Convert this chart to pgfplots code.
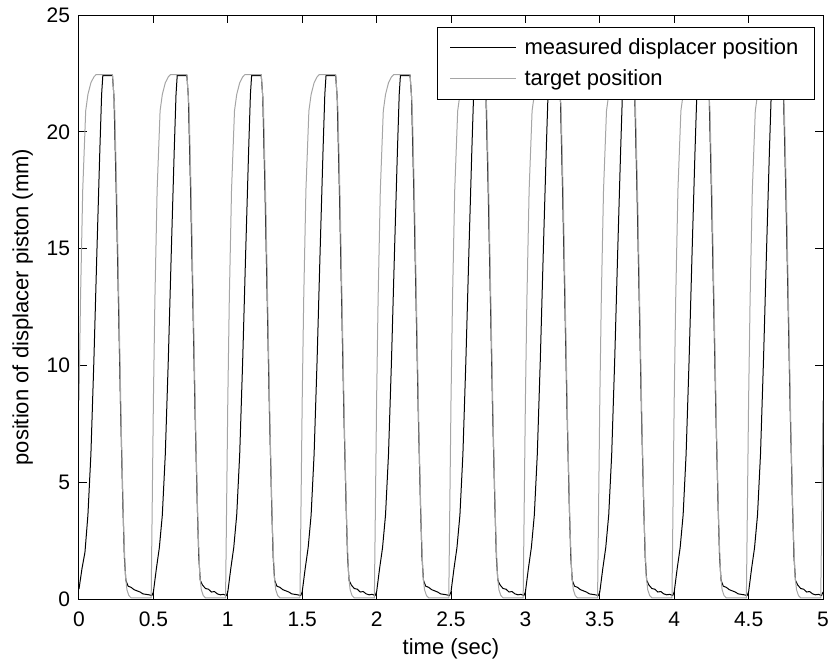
\documentclass[border=0pt]{standalone}
\usepackage{fontspec}
\setmainfont{Liberation Sans}
\usepackage{pgfplots}
\pgfplotsset{compat=1.18}
\definecolor{targetgray}{RGB}{165,165,165}

\begin{document}
\begin{tikzpicture}
\path[use as bounding box] (-39.5pt,-33.5pt) rectangle (377pt,299.5pt);
\begin{axis}[
  scale only axis, width=372pt, height=292pt,
  xmin=0, xmax=5, ymin=0, ymax=25,
  xtick={0,0.5,...,5}, ytick={0,5,...,25},
  tick align=inside, major tick length=4pt,
  axis line style={line width=0.5pt}, every tick/.style={black, line width=0.5pt},
  tick label style={font=\fontsize{10.5}{12}\selectfont},
  /pgf/number format/assume math mode=true,
  /pgf/number format/fixed,
  xticklabel style={yshift=-3pt},
  yticklabel style={xshift=-1pt},
  xlabel={time (sec)}, ylabel={position of displacer piston (mm)},
  label style={font=\fontsize{11}{13}\selectfont},
  xlabel style={yshift=1pt},
  ylabel style={yshift=0pt},
  clip=true,
  legend style={at={(1,1)}, anchor=north east, xshift=-4pt, yshift=-6pt,
    draw=black, line width=0.5pt, font=\fontsize{11}{13}\selectfont,
    inner xsep=6pt, inner ysep=3.5pt, row sep=2pt, cells={anchor=west},
    /tikz/every odd column/.append style={column sep=2pt}},
  legend image code/.code={\draw[#1] (0pt,0pt) -- (33pt,0pt);},
]
% measured displacer position
\addplot[black, line width=0.5pt] coordinates {
(0.000,0.43)(0.020,1.30)(0.040,2.00)(0.060,3.60)(0.080,6.20)(0.100,10.2)(0.120,14.8)(0.140,19.2)(0.152,21.6)(0.160,22.4)(0.225,22.4)(0.235,21.5)(0.250,17.5)(0.265,12.8)(0.280,8.0)(0.295,4.0)(0.305,1.8)(0.315,0.80)(0.330,0.55)(0.350,0.50)(0.370,0.40)(0.390,0.35)(0.410,0.30)(0.430,0.22)(0.450,0.20)(0.470,0.18)(0.490,0.15)
(0.500,0.30)(0.520,1.30)(0.540,2.20)(0.560,3.60)(0.580,6.20)(0.600,10.2)(0.620,14.8)(0.640,19.2)(0.652,21.6)(0.660,22.4)(0.725,22.4)(0.735,21.5)(0.750,17.5)(0.765,12.8)(0.780,8.0)(0.795,4.0)(0.805,1.8)(0.815,0.80)(0.830,0.60)(0.850,0.45)(0.870,0.42)(0.890,0.30)(0.910,0.32)(0.930,0.22)(0.950,0.18)(0.970,0.20)(0.990,0.15)
(1.000,0.30)(1.020,1.30)(1.040,2.20)(1.060,3.60)(1.080,6.20)(1.100,10.2)(1.120,14.8)(1.140,19.2)(1.152,21.6)(1.160,22.4)(1.225,22.4)(1.235,21.5)(1.250,17.5)(1.265,12.8)(1.280,8.0)(1.295,4.0)(1.305,1.8)(1.315,0.80)(1.330,0.55)(1.350,0.50)(1.370,0.40)(1.390,0.35)(1.410,0.30)(1.430,0.22)(1.450,0.20)(1.470,0.18)(1.490,0.15)
(1.500,0.30)(1.520,1.30)(1.540,2.20)(1.560,3.60)(1.580,6.20)(1.600,10.2)(1.620,14.8)(1.640,19.2)(1.652,21.6)(1.660,22.4)(1.725,22.4)(1.735,21.5)(1.750,17.5)(1.765,12.8)(1.780,8.0)(1.795,4.0)(1.805,1.8)(1.815,0.80)(1.830,0.60)(1.850,0.45)(1.870,0.42)(1.890,0.30)(1.910,0.32)(1.930,0.22)(1.950,0.18)(1.970,0.20)(1.990,0.15)
(2.000,0.30)(2.020,1.30)(2.040,2.20)(2.060,3.60)(2.080,6.20)(2.100,10.2)(2.120,14.8)(2.140,19.2)(2.152,21.6)(2.160,22.4)(2.225,22.4)(2.235,21.5)(2.250,17.5)(2.265,12.8)(2.280,8.0)(2.295,4.0)(2.305,1.8)(2.315,0.80)(2.330,0.55)(2.350,0.50)(2.370,0.40)(2.390,0.35)(2.410,0.30)(2.430,0.22)(2.450,0.20)(2.470,0.18)(2.490,0.15)
(2.500,0.30)(2.520,1.30)(2.540,2.20)(2.560,3.60)(2.580,6.20)(2.600,10.2)(2.620,14.8)(2.640,19.2)(2.652,21.6)(2.660,22.4)(2.725,22.4)(2.735,21.5)(2.750,17.5)(2.765,12.8)(2.780,8.0)(2.795,4.0)(2.805,1.8)(2.815,0.80)(2.830,0.60)(2.850,0.45)(2.870,0.42)(2.890,0.30)(2.910,0.32)(2.930,0.22)(2.950,0.18)(2.970,0.20)(2.990,0.15)
(3.000,0.30)(3.020,1.30)(3.040,2.20)(3.060,3.60)(3.080,6.20)(3.100,10.2)(3.120,14.8)(3.140,19.2)(3.152,21.6)(3.160,22.4)(3.225,22.4)(3.235,21.5)(3.250,17.5)(3.265,12.8)(3.280,8.0)(3.295,4.0)(3.305,1.8)(3.315,0.80)(3.330,0.55)(3.350,0.50)(3.370,0.40)(3.390,0.35)(3.410,0.30)(3.430,0.22)(3.450,0.20)(3.470,0.18)(3.490,0.15)
(3.500,0.30)(3.520,1.30)(3.540,2.20)(3.560,3.60)(3.580,6.20)(3.600,10.2)(3.620,14.8)(3.640,19.2)(3.652,21.6)(3.660,22.4)(3.725,22.4)(3.735,21.5)(3.750,17.5)(3.765,12.8)(3.780,8.0)(3.795,4.0)(3.805,1.8)(3.815,0.80)(3.830,0.60)(3.850,0.45)(3.870,0.42)(3.890,0.30)(3.910,0.32)(3.930,0.22)(3.950,0.18)(3.970,0.20)(3.990,0.15)
(4.000,0.30)(4.020,1.30)(4.040,2.20)(4.060,3.60)(4.080,6.20)(4.100,10.2)(4.120,14.8)(4.140,19.2)(4.152,21.6)(4.160,22.4)(4.225,22.4)(4.235,21.5)(4.250,17.5)(4.265,12.8)(4.280,8.0)(4.295,4.0)(4.305,1.8)(4.315,0.80)(4.330,0.55)(4.350,0.50)(4.370,0.40)(4.390,0.35)(4.410,0.30)(4.430,0.22)(4.450,0.20)(4.470,0.18)(4.490,0.15)
(4.500,0.30)(4.520,1.30)(4.540,2.20)(4.560,3.60)(4.580,6.20)(4.600,10.2)(4.620,14.8)(4.640,19.2)(4.652,21.6)(4.660,22.4)(4.725,22.4)(4.735,21.5)(4.750,17.5)(4.765,12.8)(4.780,8.0)(4.795,4.0)(4.805,1.8)(4.815,0.80)(4.830,0.60)(4.850,0.45)(4.870,0.42)(4.890,0.30)(4.910,0.32)(4.930,0.22)(4.950,0.18)(4.970,0.20)(4.990,0.15)
(5.000,0.30)
};
\addlegendentry{measured displacer position}
% target position
\addplot[targetgray, line width=0.5pt] coordinates {
(0.000,8.5)(0.010,12.8)(0.025,17.5)(0.045,20.9)(0.060,21.6)(0.080,22.1)(0.100,22.35)(0.115,22.45)(0.225,22.45)(0.240,21.0)(0.255,17.0)(0.270,12.0)(0.285,7.0)(0.300,3.0)(0.312,1.0)(0.322,0.40)(0.335,0.15)(0.350,0.05)(0.485,0.05)
(0.500,8.5)(0.510,12.8)(0.525,17.5)(0.545,20.9)(0.560,21.6)(0.580,22.1)(0.600,22.35)(0.615,22.45)(0.725,22.45)(0.740,21.0)(0.755,17.0)(0.770,12.0)(0.785,7.0)(0.800,3.0)(0.812,1.0)(0.822,0.40)(0.835,0.15)(0.850,0.05)(0.985,0.05)
(1.000,8.5)(1.010,12.8)(1.025,17.5)(1.045,20.9)(1.060,21.6)(1.080,22.1)(1.100,22.35)(1.115,22.45)(1.225,22.45)(1.240,21.0)(1.255,17.0)(1.270,12.0)(1.285,7.0)(1.300,3.0)(1.312,1.0)(1.322,0.40)(1.335,0.15)(1.350,0.05)(1.485,0.05)
(1.500,8.5)(1.510,12.8)(1.525,17.5)(1.545,20.9)(1.560,21.6)(1.580,22.1)(1.600,22.35)(1.615,22.45)(1.725,22.45)(1.740,21.0)(1.755,17.0)(1.770,12.0)(1.785,7.0)(1.800,3.0)(1.812,1.0)(1.822,0.40)(1.835,0.15)(1.850,0.05)(1.985,0.05)
(2.000,8.5)(2.010,12.8)(2.025,17.5)(2.045,20.9)(2.060,21.6)(2.080,22.1)(2.100,22.35)(2.115,22.45)(2.225,22.45)(2.240,21.0)(2.255,17.0)(2.270,12.0)(2.285,7.0)(2.300,3.0)(2.312,1.0)(2.322,0.40)(2.335,0.15)(2.350,0.05)(2.485,0.05)
(2.500,8.5)(2.510,12.8)(2.525,17.5)(2.545,20.9)(2.560,21.6)(2.580,22.1)(2.600,22.35)(2.615,22.45)(2.725,22.45)(2.740,21.0)(2.755,17.0)(2.770,12.0)(2.785,7.0)(2.800,3.0)(2.812,1.0)(2.822,0.40)(2.835,0.15)(2.850,0.05)(2.985,0.05)
(3.000,8.5)(3.010,12.8)(3.025,17.5)(3.045,20.9)(3.060,21.6)(3.080,22.1)(3.100,22.35)(3.115,22.45)(3.225,22.45)(3.240,21.0)(3.255,17.0)(3.270,12.0)(3.285,7.0)(3.300,3.0)(3.312,1.0)(3.322,0.40)(3.335,0.15)(3.350,0.05)(3.485,0.05)
(3.500,8.5)(3.510,12.8)(3.525,17.5)(3.545,20.9)(3.560,21.6)(3.580,22.1)(3.600,22.35)(3.615,22.45)(3.725,22.45)(3.740,21.0)(3.755,17.0)(3.770,12.0)(3.785,7.0)(3.800,3.0)(3.812,1.0)(3.822,0.40)(3.835,0.15)(3.850,0.05)(3.985,0.05)
(4.000,8.5)(4.010,12.8)(4.025,17.5)(4.045,20.9)(4.060,21.6)(4.080,22.1)(4.100,22.35)(4.115,22.45)(4.225,22.45)(4.240,21.0)(4.255,17.0)(4.270,12.0)(4.285,7.0)(4.300,3.0)(4.312,1.0)(4.322,0.40)(4.335,0.15)(4.350,0.05)(4.485,0.05)
(4.500,8.5)(4.510,12.8)(4.525,17.5)(4.545,20.9)(4.560,21.6)(4.580,22.1)(4.600,22.35)(4.615,22.45)(4.725,22.45)(4.740,21.0)(4.755,17.0)(4.770,12.0)(4.785,7.0)(4.800,3.0)(4.812,1.0)(4.822,0.40)(4.835,0.15)(4.850,0.05)(4.985,0.05)
(5.000,8.5)
};
\addlegendentry{target position}
\end{axis}
\end{tikzpicture}
\end{document}
